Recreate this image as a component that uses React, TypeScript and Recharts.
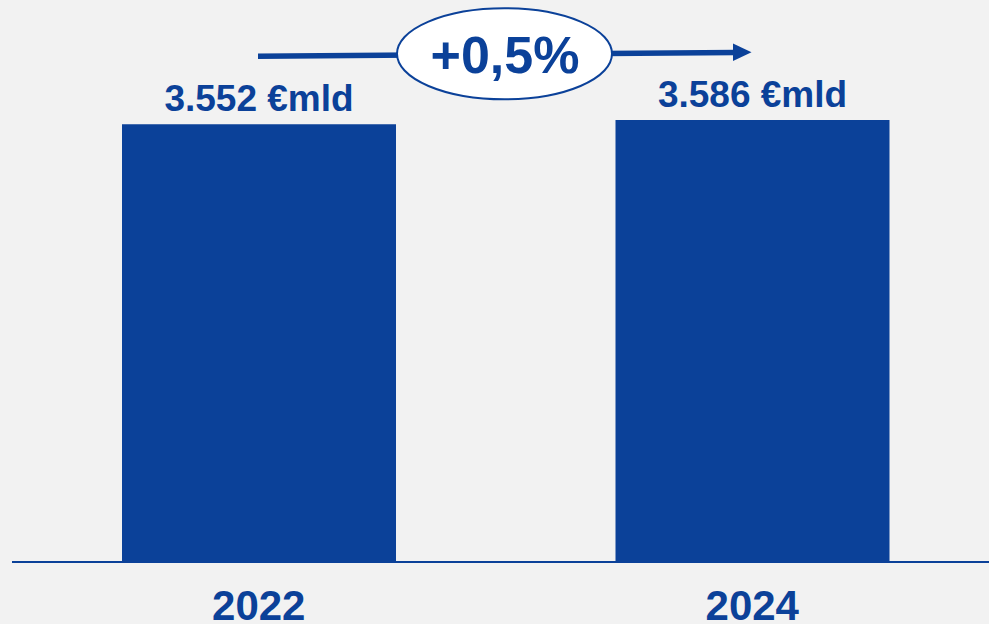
import React from 'react';
import { BarChart, Bar, XAxis, YAxis, LabelList } from 'recharts';

const years = ['2022', '2024'];
const values = [3552, 3586];
const growthLabel = '+0,5%';
const unitSuffix = ' €mld';

const BLUE = '#0b4199';
const BG = '#f2f2f2';
const FONT = '"Liberation Sans", Arial, sans-serif';

const data = years.map((year, i) => ({ year, value: values[i] }));

// Italian thousands separator: 3552 -> "3.552"
const formatValue = (v: number) => {
  const thousands = Math.floor(v / 1000);
  const rest = String(v % 1000).padStart(3, '0');
  return `${thousands}.${rest}${unitSuffix}`;
};

const YearTick = (props: any) => {
  const { x, y, payload } = props;
  return (
    <text
      x={x}
      y={y + 58}
      textAnchor="middle"
      fill={BLUE}
      fontFamily={FONT}
      fontWeight="bold"
      fontSize={42}
    >
      {payload.value}
    </text>
  );
};

// growth annotation: arrow from first bar centre to second bar centre, with the oval badge
const GrowthArrow = () => (
  <svg
    width={989}
    height={624}
    style={{ position: 'absolute', left: 0, top: 0, pointerEvents: 'none' }}
  >
    <line x1={258} y1={56.3} x2={736} y2={52.4} stroke={BLUE} strokeWidth={5.5} />
    <polygon points="733,43.5 751.5,52.3 733,61" fill={BLUE} />
    <ellipse cx={504.5} cy={53.8} rx={107.5} ry={45.5} fill="#ffffff" stroke={BLUE} strokeWidth={2} />
    <text
      x={505}
      y={73}
      textAnchor="middle"
      fill={BLUE}
      fontFamily={FONT}
      fontWeight="bold"
      fontSize={52}
    >
      {growthLabel}
    </text>
  </svg>
);

export default function App() {
  return (
    <div
      style={{
        position: 'fixed',
        left: 0,
        top: 0,
        width: 989,
        height: 624,
        overflow: 'hidden',
        background: BG,
      }}
    >
      <BarChart
        width={1000}
        height={624}
        data={data}
        margin={{ top: 69, right: 1, left: 12, bottom: 0 }}
      >
        <XAxis
          dataKey="year"
          height={62}
          tickLine={false}
          tickSize={0}
          tickMargin={0}
          axisLine={{ stroke: BLUE, strokeWidth: 2 }}
          tick={<YearTick />}
          interval={0}
        />
        <YAxis hide domain={[0, 4000]} />
        <Bar dataKey="value" fill={BLUE} barSize={274} isAnimationActive={false}>
          <LabelList
            dataKey="value"
            position="top"
            offset={13}
            formatter={(v: any) => formatValue(Number(v))}
            fill={BLUE}
            fontFamily={FONT}
            fontWeight="bold"
            fontSize={37}
          />
        </Bar>
      </BarChart>
      <GrowthArrow />
    </div>
  );
}
